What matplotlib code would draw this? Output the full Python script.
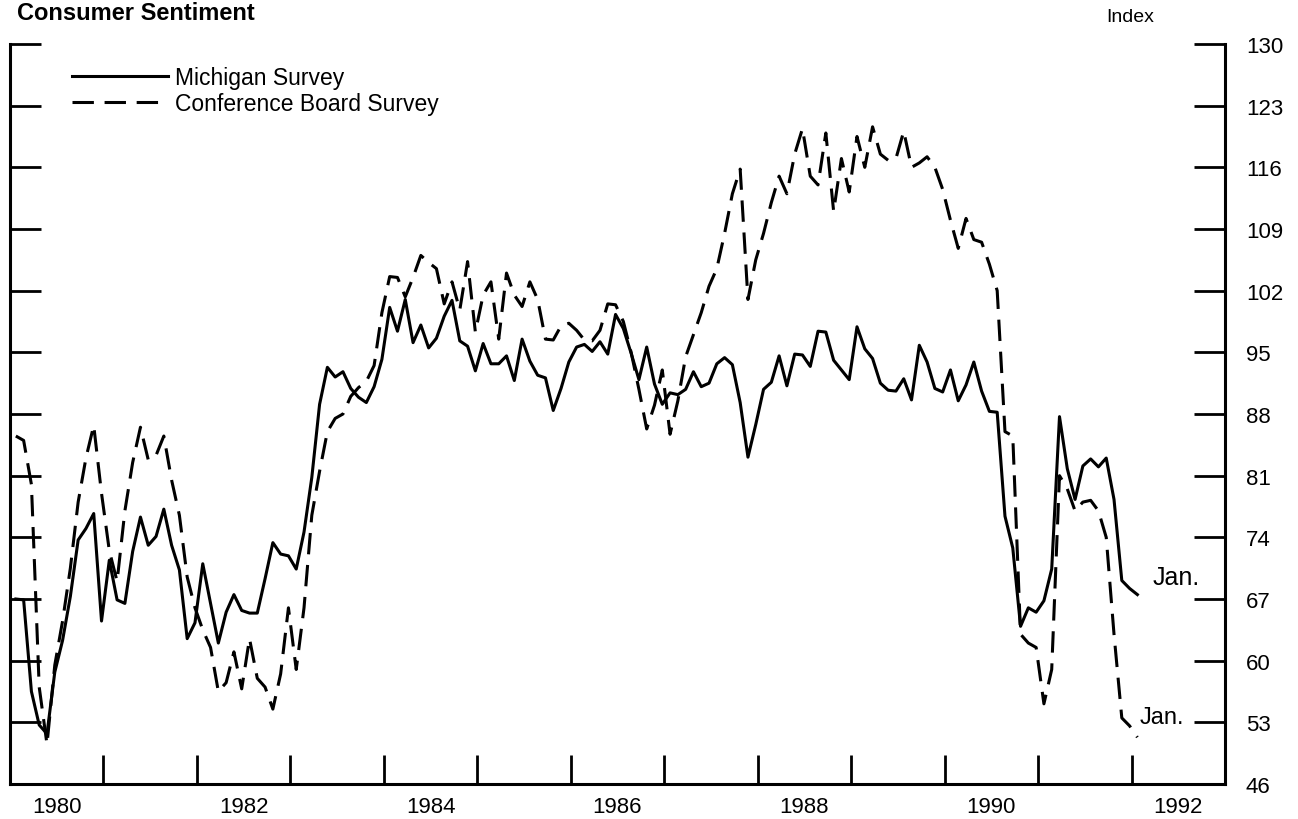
import numpy as np
import matplotlib
matplotlib.use("Agg")
from matplotlib import pyplot as plt

# Monthly index values, Jan 1980 .. Jan 1992
michigan = [
    67.0, 66.9, 56.5, 52.7, 51.7, 58.7, 62.3, 67.3, 73.7, 75.0, 76.7, 64.5,   # 1980
    71.4, 66.9, 66.5, 72.4, 76.3, 73.1, 74.1, 77.2, 73.1, 70.3, 62.5, 64.3,   # 1981
    71.0, 66.5, 62.0, 65.5, 67.5, 65.7, 65.4, 65.4, 69.3, 73.4, 72.1, 71.9,   # 1982
    70.4, 74.6, 80.8, 89.1, 93.3, 92.2, 92.8, 90.9, 89.9, 89.3, 91.1, 94.2,   # 1983
    100.1, 97.4, 101.0, 96.1, 98.1, 95.5, 96.6, 99.1, 100.9, 96.3, 95.7, 92.9,  # 1984
    96.0, 93.7, 93.7, 94.6, 91.8, 96.5, 94.0, 92.4, 92.1, 88.4, 90.9, 93.9,   # 1985
    95.6, 95.9, 95.1, 96.2, 94.8, 99.3, 97.7, 94.9, 91.9, 95.6, 91.4, 89.1,   # 1986
    90.4, 90.2, 90.8, 92.8, 91.1, 91.5, 93.7, 94.4, 93.6, 89.3, 83.1, 86.8,   # 1987
    90.8, 91.6, 94.6, 91.2, 94.8, 94.7, 93.4, 97.4, 97.3, 94.1, 93.0, 91.9,   # 1988
    97.9, 95.4, 94.3, 91.5, 90.7, 90.6, 92.0, 89.6, 95.8, 93.9, 90.9, 90.5,   # 1989
    93.0, 89.5, 91.3, 93.9, 90.6, 88.3, 88.2, 76.4, 72.8, 63.9, 66.0, 65.5,   # 1990
    66.8, 70.4, 87.7, 81.8, 78.3, 82.1, 82.9, 82.0, 83.0, 78.3, 69.1, 68.2,   # 1991
    67.5,                                                                     # 1992
]
conference = [
    85.5, 85.0, 80.0, 57.0, 50.5, 59.5, 64.5, 70.5, 78.0, 83.0, 86.7, 79.0,
    72.5, 69.0, 77.0, 82.5, 86.5, 82.8, 83.3, 85.5, 80.5, 76.5, 69.5, 66.0,
    63.5, 61.5, 56.5, 57.5, 61.0, 56.8, 62.5, 58.0, 57.0, 54.5, 58.5, 66.0,
    59.0, 66.0, 76.5, 81.5, 86.0, 87.5, 88.0, 90.0, 91.0, 91.7, 93.5, 99.5,
    103.6, 103.5, 101.3, 103.5, 106.0, 105.2, 104.5, 100.5, 103.0, 99.8, 105.3, 97.3,
    101.5, 103.0, 96.5, 104.0, 101.5, 100.2, 103.0, 101.0, 96.5, 96.4, 98.0, 98.3,
    97.5, 96.4, 96.3, 97.5, 100.5, 100.4, 98.5, 95.0, 90.8, 86.3, 89.0, 93.0,
    85.7, 89.5, 94.5, 97.0, 99.5, 102.5, 104.5, 108.5, 113.0, 115.8, 101.0, 105.5,
    108.5, 112.0, 115.0, 113.0, 117.5, 120.4, 115.0, 114.0, 119.9, 111.0, 117.0, 113.2,
    119.5, 116.0, 120.6, 117.5, 116.8, 117.0, 120.1, 116.0, 116.5, 117.2, 116.0, 113.5,
    110.0, 106.8, 110.2, 107.8, 107.5, 105.0, 102.0, 86.0, 85.5, 63.0, 62.0, 61.5,
    55.1, 59.0, 81.0, 79.5, 77.0, 78.0, 78.2, 77.0, 74.0, 63.0, 53.5, 52.6,
    51.3,
]
year_labels = [1980, 1982, 1984, 1986, 1988, 1990, 1992]
year_ticks = list(range(1981, 1993))
index_ticks = [46, 53, 60, 67, 74, 81, 88, 95, 102, 109, 116, 123, 130]

months = np.arange(len(michigan))
x = 1980 + (months + 0.75) / 12.0

plt.rcParams['font.family'] = ['Liberation Sans', 'DejaVu Sans']
fig = plt.figure(figsize=(12.98, 8.2), dpi=100)
ax = fig.add_axes([10 / 1298, 35 / 820, 1215 / 1298, 740 / 820])

ax.plot(x, michigan, color='black', lw=2.2, label='Michigan Survey')
ax.plot(x, conference, color='black', lw=2.2, dashes=(7, 3.5),
        label='Conference Board Survey')

ax.set_xlim(1980, 1993)
ax.set_ylim(46, 130)
ax.spines['top'].set_visible(False)
for side in ['left', 'right', 'bottom']:
    ax.spines[side].set_linewidth(2.2)

# year labels sit in the middle of each year, ticks on the year boundaries
ax.set_xticks([y + 0.5 for y in year_labels])
ax.set_xticklabels([str(y) for y in year_labels])
ax.set_xticks(year_ticks, minor=True)
ax.tick_params(axis='x', which='major', length=0, pad=9, labelsize=16)
ax.tick_params(axis='x', which='minor', direction='in', length=21, width=2)

ax.set_yticks(index_ticks)
ax.tick_params(axis='y', left=True, right=True, labelleft=False,
               labelright=True, direction='in', length=22, width=2,
               labelsize=16, pad=15)

ax.legend(loc='upper left', bbox_to_anchor=(0.051, 0.970), frameon=False,
          fontsize=16.5, handlelength=4.2, handletextpad=0.3, labelspacing=0.12,
          borderpad=0, borderaxespad=0)

ax.text(1992.22, 69.5, 'Jan.', fontsize=18, va='center', ha='left')
ax.text(1992.09, 53.6, 'Jan.', fontsize=17, va='center', ha='left')

fig.text(1130 / 1298, 1 - 18 / 820, 'Index', fontsize=14, ha='center', va='center')
fig.text(17 / 1298, 1 - 2 / 820, 'Consumer Sentiment', fontsize=17,
         fontweight='bold', va='top', ha='left')

fig.savefig('out.png', dpi=100)
